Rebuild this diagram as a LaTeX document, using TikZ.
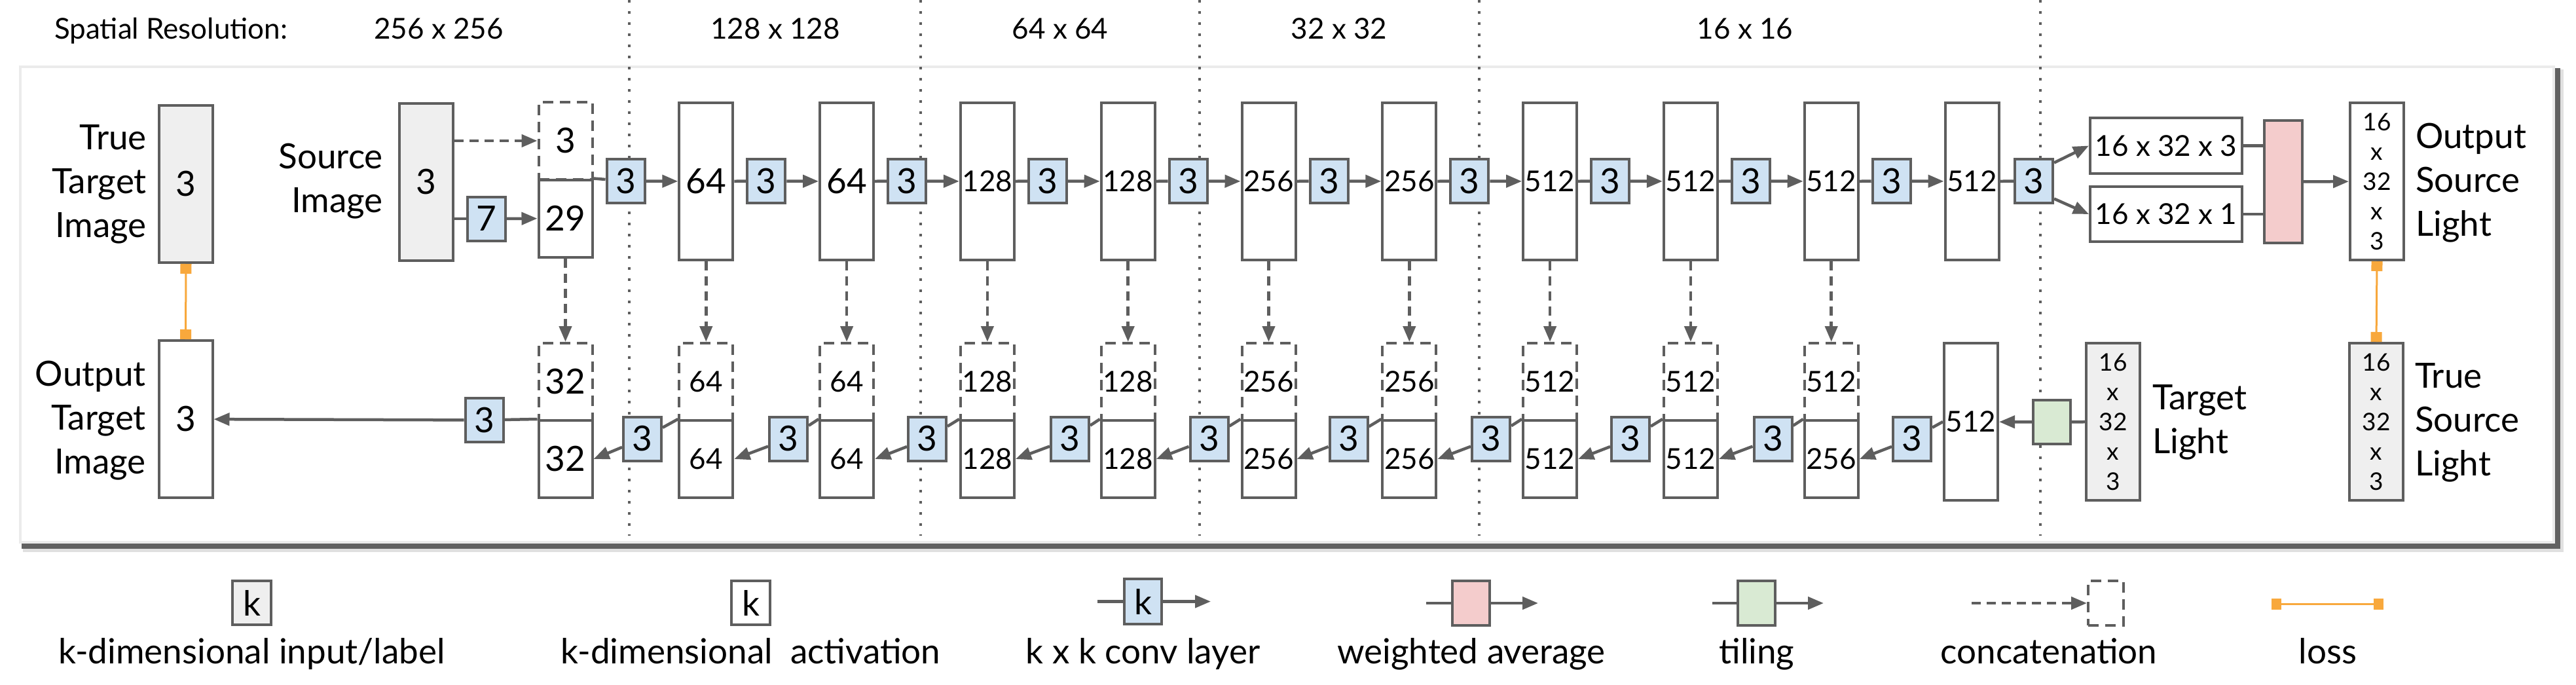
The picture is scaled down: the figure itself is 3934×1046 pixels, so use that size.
\documentclass[tikz,border=0pt]{standalone}
\usepackage{fontspec}
\setmainfont{Lato}
\usetikzlibrary{arrows.meta}
\definecolor{bd}{HTML}{5E5E5E}
\definecolor{gin}{HTML}{EFEFEF}
\definecolor{cblue}{HTML}{CFE2F3}
\definecolor{cpink}{HTML}{F4CCCC}
\definecolor{cgreen}{HTML}{D9EAD3}
\definecolor{orng}{HTML}{F8A83C}
\newcommand\fsz[2]{\fontsize{#1}{#2}\selectfont}
\begin{document}
\begin{tikzpicture}[x=1pt,y=-1pt,
  box/.style={draw=bd, line width=4pt, inner sep=0pt},
  act/.style={box, fill=white, minimum width=82pt, minimum height=240pt, font=\fsz{53}{64}},
  actb/.style={act, font=\fsz{44}{53}},
  inp/.style={act, fill=gin},
  half/.style={box, fill=white, minimum width=82pt, minimum height=118pt, font=\fsz{53}{64}},
  halfb/.style={half, font=\fsz{44}{53}},
  dashy/.style={dash pattern=on 16pt off 10pt},
  conv/.style={box, fill=cblue, minimum width=58pt, minimum height=67pt, font=\fsz{53}{64}},
  lbl/.style={inner sep=0pt, font=\fsz{53}{67}},
  hdr/.style={inner sep=0pt, font=\fsz{44}{53}},
  stackt/.style={align=center, font=\fsz{37}{45.5}},
  ln/.style={draw=bd, line width=4.5pt},
  arr/.style={ln, -{Triangle[length=24pt,width=19pt]}},
  darr/.style={arr, dash pattern=on 14pt off 9pt},
  loss/.style={draw=orng, line width=3pt, {Rectangle[length=15pt,width=17pt]}-{Rectangle[length=15pt,width=17pt]}},
  divider/.style={draw=bd, line width=3.5pt, dash pattern=on 4pt off 13pt},
  lgbox/.style={box, minimum width=59pt, minimum height=67pt, font=\fsz{53}{64}},
]
\useasboundingbox (0,0) rectangle (3934,1046);
% frame with shadow
\fill[black!12] (35,106) rectangle (3915,843);
\fill[black!62] (33,104) rectangle (3910,838);
\draw[draw=black!8, fill=white, line width=4pt] (31,102) rectangle (3900,828);
% dividers
\foreach \x in {961,1406,1832,2259,3116} \draw[divider] (\x,0) -- (\x,818);
% header
\node[hdr, anchor=base west] (hsr) at (83,60) {Spatial Resolution:};
\foreach \n/\x/\t in {1/670/256 x 256, 2/1184/128 x 128, 3/1619/64 x 64, 4/2045/32 x 32, 5/2665/16 x 16}
  \node[hdr, anchor=base] (h\n) at (\x,60) {\t};
% left column
\node[inp] (tti) at (284,281) {3};
\node[lbl, anchor=east, align=right] (ttil) at (224,281) {True\\Target\\Image};
\node[act] (oti) at (283.5,640) {3};
\node[lbl, anchor=east, align=right] (otil) at (223,642) {Output\\Target\\Image};
\draw[loss] (tti.south) -- (oti.north);
\node[inp] (si) at (650.5,277.5) {3};
\node[lbl, anchor=east, align=right] (sil) at (585,277) {Source\\Image};
\node[half, dashy] (d3) at (863.5,215) {3};
\node[half] (s29) at (863.5,333.5) {29};
\node[conv] (c7) at (743,334) {7};
\draw[darr] (si.east |- d3) -- (d3.west);
\draw[ln] (si.east |- c7) -- (c7);
\draw[arr] (c7) -- (s29);
% encoder
\foreach \n/\x/\t/\s in {1/1078.3/64/act, 2/1293.1/64/act, 3/1507.9/128/actb, 4/1722.7/128/actb, 5/1937.5/256/actb, 6/2152.3/256/actb, 7/2367.1/512/actb, 8/2581.9/512/actb, 9/2796.7/512/actb, 10/3011.5/512/actb}
  \node[\s] (e\n) at (\x,277) {\t};
\foreach \n/\x in {0/955.5, 1/1170.3, 2/1385.1, 3/1599.9, 4/1814.7, 5/2029.5, 6/2244.3, 7/2459.1, 8/2673.9, 9/2888.7, 10/3106}
  \node[conv] (ce\n) at (\x,276.5) {3};
\draw[ln] (s29.north east) -- (ce0);
\draw[arr] (ce0) -- (e1);
\foreach \n [evaluate=\n as \m using int(\n+1)] in {1,...,9} {
  \draw[ln] (e\n) -- (ce\n);
  \draw[arr] (ce\n) -- (e\m);
}
\draw[ln] (e10) -- (ce10);
% light branch
\node[box, fill=white, minimum width=232pt, minimum height=85pt, font=\fsz{44}{53}] (r3) at (3308,222.5) {16 x 32 x 3};
\node[box, fill=white, minimum width=232pt, minimum height=84pt, font=\fsz{44}{53}] (r1) at (3308,327) {16 x 32 x 1};
\node[box, fill=cpink, minimum width=58pt, minimum height=187pt] (wa) at (3487,277.5) {};
\node[act, stackt] (osl) at (3630,277) {16\\x\\32\\x\\3};
\node[lbl, anchor=west, align=left] (osll) at (3689,279) {Output\\Source\\Light};
\draw[arr] ([yshift=28pt]ce10.east) -- (r3.west);
\draw[arr] ([yshift=-27pt]ce10.east) -- (r1.west);
\draw[ln] (r3.east) -- (r3.east -| wa.west);
\draw[ln] (r1.east) -- (r1.east -| wa.west);
\draw[arr] (wa) -- (osl);
\node[inp, stackt] (tsl) at (3629,644) {16\\x\\32\\x\\3};
\node[lbl, anchor=west, align=left] (tsll) at (3688,645) {True\\Source\\Light};
\draw[loss] (osl.south) -- (tsl.north);
% decoder
\foreach \n/\x/\a/\b/\s in {0/863.5/32/32/half, 1/1078.3/64/64/halfb, 2/1293.1/64/64/halfb, 3/1507.9/128/128/halfb, 4/1722.7/128/128/halfb, 5/1937.5/256/256/halfb, 6/2152.3/256/256/halfb, 7/2367.1/512/512/halfb, 8/2581.9/512/512/halfb, 9/2796.7/512/256/halfb} {
  \node[\s, dashy] (dt\n) at (\x,583) {\a};
  \node[\s] (bs\n) at (\x,701) {\b};
}
\node[actb] (b10) at (3010,644) {512};
\node[inp, stackt] (tl) at (3227,644) {16\\x\\32\\x\\3};
\node[lbl, anchor=west, align=left] (tll) at (3287,645) {Target\\Light};
\node[box, fill=cgreen, minimum width=57pt, minimum height=67pt] (tile) at (3133.5,644.5) {};
\draw[ln] (tl) -- (tile);
\draw[arr] (tile) -- (b10);
\foreach \n/\x in {0/981, 1/1204, 2/1416, 3/1634, 4/1846.5, 5/2059.5, 6/2277, 7/2490, 8/2707.5, 9/2920}
  \node[conv] (cd\n) at (\x,670) {3};
\draw[darr] (s29.south) -- (dt0.north);
\foreach \n in {1,...,9} \draw[darr] (e\n.south) -- (dt\n.north);
\foreach \n [evaluate=\n as \m using int(\n+1)] in {0,...,8} {
  \draw[ln] (bs\m.north west) -- (cd\n);
  \draw[arr] (cd\n) -- (bs\n.east);
}
\draw[ln] (b10.west) -- (cd9);
\draw[arr] (cd9) -- (bs9.east);
\node[conv] (cf) at (739.5,641.5) {3};
\draw[ln] (bs0.north west) -- (cf);
\draw[arr] (cf) -- (oti);
% legend
\node[lgbox, fill=gin] (lg1) at (384.5,920.5) {k};
\node[lgbox, fill=white] (lg2) at (1146.5,920.5) {k};
\node[lgbox, fill=cblue, minimum width=57pt, minimum height=69pt] (lg3) at (1745.5,918.5) {k};
\coordinate (lg3a) at (1676,918.5); \coordinate (lg3b) at (1849,918.5);
\draw[ln] (lg3a) -- (lg3); \draw[arr] (lg3) -- (lg3b);
\node[lgbox, fill=cpink, minimum width=57pt, minimum height=68pt] (lg4) at (2246.5,921) {};
\coordinate (lg4a) at (2178,921); \coordinate (lg4b) at (2349,921);
\draw[ln] (lg4a) -- (lg4); \draw[arr] (lg4) -- (lg4b);
\node[lgbox, fill=cgreen, minimum width=57pt, minimum height=68pt] (lg5) at (2682.5,921) {};
\coordinate (lg5a) at (2615,921); \coordinate (lg5b) at (2785,921);
\draw[ln] (lg5a) -- (lg5); \draw[arr] (lg5) -- (lg5b);
\node[lgbox, fill=white, dashy, minimum width=54pt, minimum height=68pt] (lg6) at (3216,921) {};
\coordinate (lg6a) at (3011,921);
\draw[darr] (lg6a) -- (lg6.west);
\coordinate (lg7a) at (3469,922); \coordinate (lg7b) at (3640,922);
\draw[loss] (lg7a) -- (lg7b);
\node[lbl, anchor=base] (lt1) at (384.5,1013) {k-dimensional input/label};
\foreach \n/\x/\t in {2/1146.5/k-dimensional~~activation, 3/1745.5/k x k conv layer, 4/2247/weighted average, 5/2683/tiling, 6/3129/concatenation, 7/3555/loss}
  \node[lbl, anchor=base] (lt\n) at (\x,1013) {\t};
\end{tikzpicture}
\end{document}
